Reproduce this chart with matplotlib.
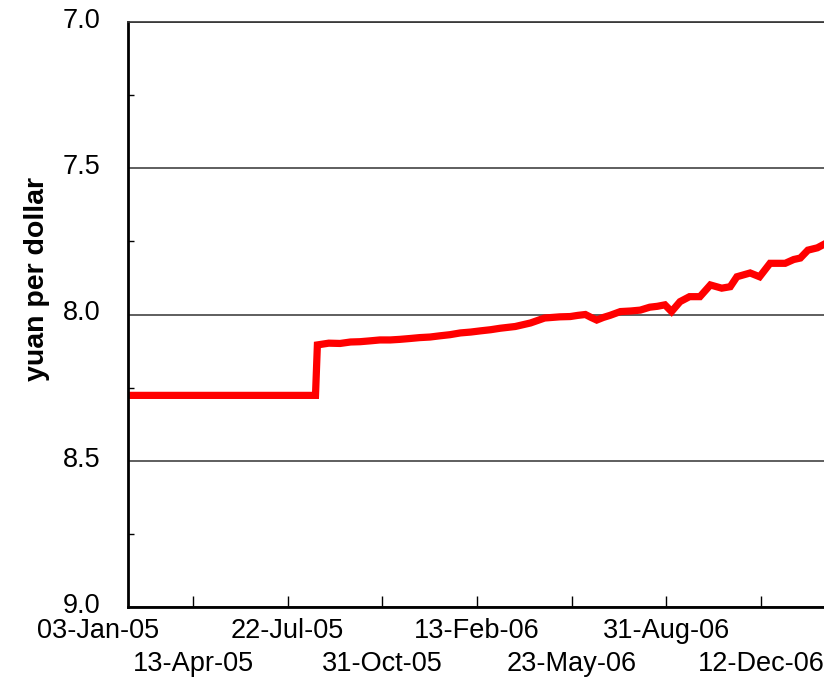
import matplotlib.pyplot as plt
import matplotlib.ticker as mticker
import matplotlib.transforms as mtransforms

plt.rcParams['font.family'] = ['Liberation Sans', 'DejaVu Sans']

# days since 03-Jan-05 and the yuan/dollar rate
days = [0, 198, 200, 212, 224, 235, 245, 256, 266, 277, 287, 298, 308, 319,
        329, 340, 351, 362, 372, 383, 393, 409, 425, 440, 456, 467, 475, 483,
        489, 495, 502, 509, 520, 531, 541, 551, 559, 567, 574, 583, 593, 604,
        615, 627, 636, 643, 657, 667, 678, 694, 703, 710, 718, 728, 735]
rate = [8.2765, 8.2765, 8.104, 8.098, 8.099, 8.094, 8.093, 8.090, 8.087, 8.087,
        8.085, 8.082, 8.079, 8.077, 8.073, 8.069, 8.063, 8.060, 8.056, 8.052,
        8.047, 8.041, 8.029, 8.012, 8.008, 8.007, 8.003, 8.000, 8.010, 8.019,
        8.010, 8.003, 7.990, 7.988, 7.985, 7.975, 7.972, 7.967, 7.990, 7.956,
        7.939, 7.939, 7.899, 7.910, 7.905, 7.871, 7.858, 7.871, 7.825, 7.825,
        7.812, 7.807, 7.780, 7.772, 7.760]

# category labels on the date axis, one every 72 trading days
tick_labels = ['03-Jan-05', '13-Apr-05', '22-Jul-05', '31-Oct-05',
               '13-Feb-06', '23-May-06', '31-Aug-06', '12-Dec-06']
label_step = 100     # spacing of the labels in axis units
label_shift = 31.4   # labels sit ~a month left of the data dates in the original

tick_pos = [i * label_step - label_shift for i in range(len(tick_labels))]

fig = plt.figure(figsize=(8.24, 6.77), dpi=100)
ax = fig.add_axes([128 / 824, 70 / 677, 1 - 128 / 824, 585 / 677])

ax.plot(days, rate, color='#ff0000', lw=5.2, solid_joinstyle='miter')

ax.set_xlim(0, 735)
ax.set_ylim(9.0, 7.0)

ax.yaxis.set_major_locator(mticker.MultipleLocator(0.5))
ax.yaxis.set_minor_locator(mticker.MultipleLocator(0.25))
ax.yaxis.set_major_formatter(mticker.FormatStrFormatter('%.1f'))
ax.grid(axis='y', which='major', color='#333333', lw=1.1)
ax.set_axisbelow(True)

fs = 19.5
ax.set_xticks(tick_pos[1:])
ax.set_xticklabels(tick_labels[1:])
ax.tick_params(axis='x', direction='in', length=8, width=1, labelsize=fs,
               pad=8)
ax.tick_params(axis='y', which='both', direction='in', length=4.5, width=1,
               labelsize=fs, pad=20)
ax.tick_params(axis='y', which='major', length=0)

# y labels sit a few pixels above their gridlines in the original
up = mtransforms.ScaledTranslation(0, 4 / 100, fig.dpi_scale_trans)
for lab in ax.get_yticklabels():
    lab.set_transform(lab.get_transform() + up)

# stagger the date labels on two rows
for i, t in enumerate(ax.xaxis.get_major_ticks()):
    if i % 2 == 0:
        t.set_pad(32)

ax.annotate(tick_labels[0], xy=(tick_pos[0], 0),
            xycoords=('data', 'axes fraction'), xytext=(0, -8),
            textcoords='offset points', ha='center', va='top', fontsize=fs,
            annotation_clip=False)

ax.set_ylabel('yuan per dollar', fontsize=20.5, fontweight='bold')
ax.yaxis.set_label_coords(-0.112, 0.56)

for s in ['left', 'bottom']:
    ax.spines[s].set_linewidth(2)
ax.spines['top'].set_linewidth(1.2)
ax.spines['top'].set_color('#333333')
ax.spines['right'].set_visible(False)

fig.savefig('out.png', dpi=100)
